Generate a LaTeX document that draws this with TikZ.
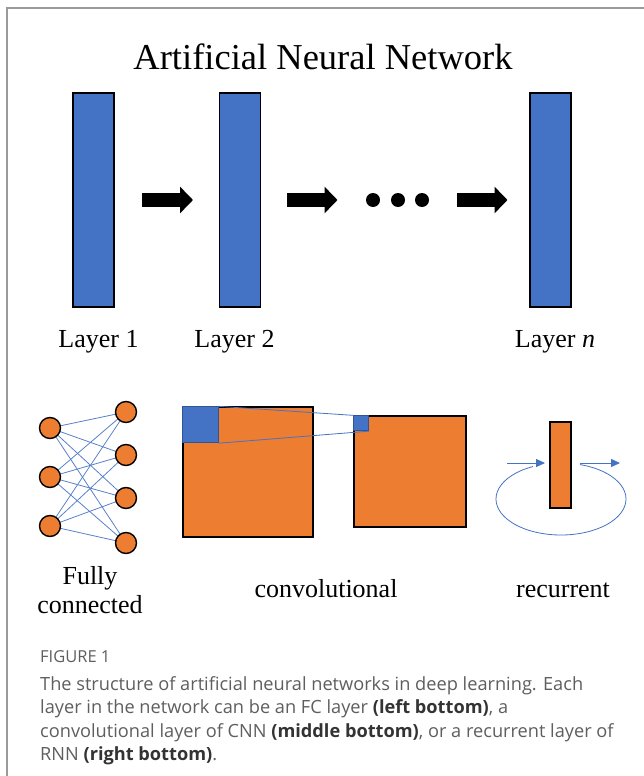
\documentclass[tikz,border=0pt]{standalone}
\usepackage{fontspec}
\newfontfamily\capfont{Open Sans}
\newfontfamily\palfont{Liberation Serif}
\usetikzlibrary{arrows.meta,backgrounds}
\definecolor{lblue}{HTML}{4472C4}
\definecolor{lorange}{HTML}{ED7D31}
\definecolor{kblue}{HTML}{2F5597}
\definecolor{capgray}{HTML}{5E5E5E}
\definecolor{framegray}{HTML}{9A9A9A}
\tikzset{
  layerbox/.style={draw=black, line width=1.3pt, fill=lblue, minimum width=41pt, minimum height=214pt, inner sep=0pt},
  blockarrow/.style={line width=14pt, -{Triangle[width=26pt,length=13pt]}},
  lbl/.style={font=\palfont\fontsize{26}{30}\selectfont, anchor=base, inner sep=0pt},
  neuron/.style={circle, draw=black, line width=1.4pt, fill=lorange, minimum size=21pt, inner sep=0pt},
  fcline/.style={draw=lblue!90, line width=0.8pt},
  sqbox/.style={draw=black, line width=1.3pt, fill=lorange, inner sep=0pt},
  kernel/.style={draw=kblue, line width=0.8pt, fill=lblue, inner sep=0pt, anchor=north west},
  bluethin/.style={draw=lblue, line width=0.8pt},
  captxt/.style={font=\capfont\fontsize{18.2}{20}\selectfont, text=capgray, anchor=base west, inner sep=0pt},
  dot/.style={circle, fill=black, minimum size=14pt, inner sep=0pt}
}
\begin{document}
\begin{tikzpicture}[x=1pt,y=-1pt]
\useasboundingbox (0,0) rectangle (644,776);
% frame
\draw[framegray, line width=1.2pt] (7,776) -- (7,8) -- (644,8);
% title
\node[lbl, font=\palfont\fontsize{36.5}{42}\selectfont] (title) at (323,70) {Artificial Neural Network};
% layers
\node[layerbox] (L1) at (93.5,200) {};
\node[layerbox] (L2) at (240,200) {};
\node[layerbox] (Ln) at (550.5,200) {};
\node[lbl] (t1) at (98.5,347) {Layer 1};
\node[lbl] (t2) at (234.5,347) {Layer 2};
\node[lbl] (tn) at (555,347) {Layer \textit{n}};
% block arrows
\coordinate (a1s) at (142,200); \coordinate (a1e) at (193,200);
\coordinate (a2s) at (287,200); \coordinate (a2e) at (337.5,200);
\coordinate (a3s) at (457,200); \coordinate (a3e) at (507.5,200);
\draw[blockarrow] (a1s) -- (a1e);
\draw[blockarrow] (a2s) -- (a2e);
\draw[blockarrow] (a3s) -- (a3e);
\node[dot] (d1) at (373,200) {};
\node[dot] (d2) at (398,200) {};
\node[dot] (d3) at (422,200) {};
% fully connected
\node[neuron] (A1) at (50,428) {};
\node[neuron] (A2) at (50,477) {};
\node[neuron] (A3) at (50,526) {};
\node[neuron] (B1) at (126,412) {};
\node[neuron] (B2) at (126,455) {};
\node[neuron] (B3) at (126,498) {};
\node[neuron] (B4) at (126,543) {};
\begin{scope}[on background layer]
\foreach \a in {A1,A2,A3}{
  \foreach \b in {B1,B2,B3,B4}{
    \draw[fcline] (\a.center) -- (\b.center);
  }
}
\end{scope}
\node[lbl] (fc1) at (90,584) {Fully};
\node[lbl] (fc2) at (90,613) {connected};
% convolutional
\node[sqbox, minimum width=130pt, minimum height=130pt] (C1) at (248,472) {};
\node[kernel, minimum width=36pt, minimum height=36pt] (K1) at (C1.north west) {};
\node[sqbox, minimum width=112pt, minimum height=111pt] (C2) at (410,471.5) {};
\node[kernel, minimum width=15pt, minimum height=15pt] (K2) at (C2.north west) {};
\draw[bluethin] (K1.north east) -- (K2.north west);
\draw[bluethin] (K1.south east) -- (K2.south east);
\node[lbl] (conv) at (326,597) {convolutional};
% recurrent
\coordinate (Ec) at (561,499);
\draw[bluethin] (Ec) ++(-73:65 and 36) arc[start angle=-73, end angle=244.5, x radius=65, y radius=36];
\node[sqbox, minimum width=21pt, minimum height=86pt, line width=1.2pt] (R) at (560.5,465) {};
\coordinate (i1) at (507,463); \coordinate (i2) at (545,463);
\coordinate (o1) at (580,463); \coordinate (o2) at (620,463);
\draw[bluethin, -{Triangle[width=8pt,length=9pt]}] (i1) -- (i2);
\draw[bluethin, -{Triangle[width=8pt,length=9pt]}] (o1) -- (o2);
\node[lbl] (rec) at (563,597) {recurrent};
% caption
\node[captxt, font=\capfont\fontsize{16.5}{18}\selectfont] (fig) at (40,662) {FIGURE 1};
\node[captxt] (c1) at (40,690) {The structure of artificial neural networks in deep learning. Each};
\node[captxt] (c2) at (40,713) {layer in the network can be an FC layer \textbf{\color{black!80}(left bottom)}, a};
\node[captxt] (c3) at (40,737) {convolutional layer of CNN \textbf{\color{black!80}(middle bottom)}, or a recurrent layer of};
\node[captxt] (c4) at (40,760) {RNN \textbf{\color{black!80}(right bottom)}.};
\end{tikzpicture}
\end{document}
